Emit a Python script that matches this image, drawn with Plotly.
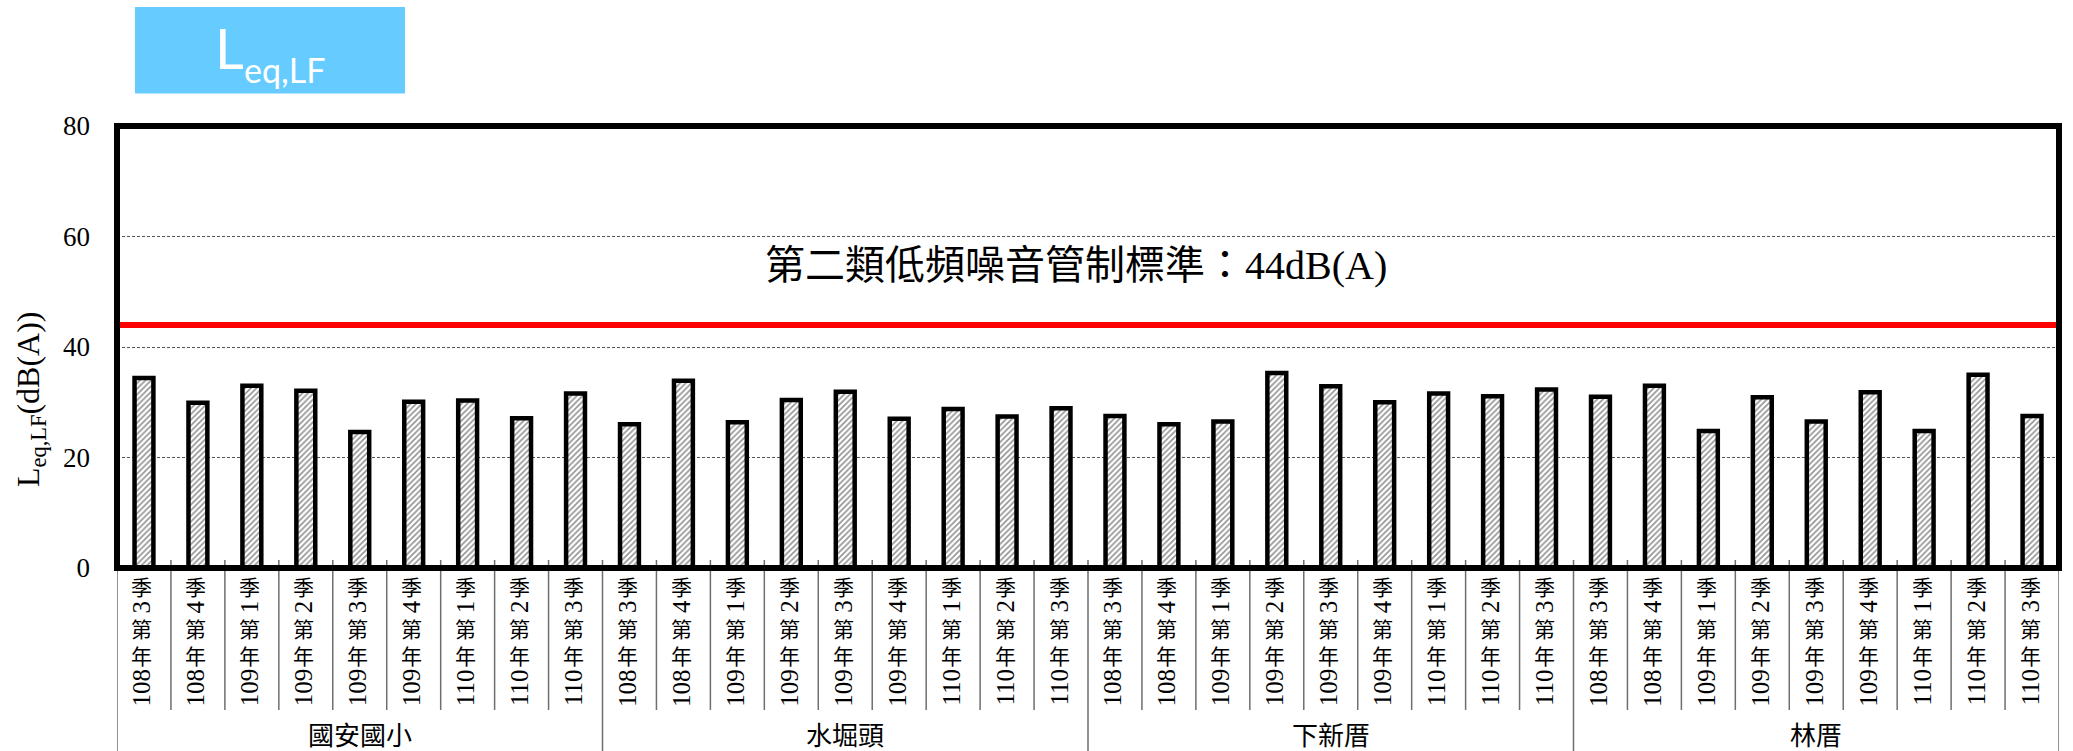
import plotly.graph_objects as go

# ---------------- data ----------------
groups = ["國安國小", "水堀頭", "下新厝", "林厝"]
periods = ["108年第3季", "108年第4季", "109年第1季", "109年第2季", "109年第3季",
           "109年第4季", "110年第1季", "110年第2季", "110年第3季"]
vals_guoan = [34.4, 29.9, 33.0, 32.1, 24.6, 30.1, 30.3, 27.1, 31.6]
vals_shuijuetou = [26.0, 33.9, 26.4, 30.4, 31.9, 27.0, 28.8, 27.4, 28.9]
vals_xiaxincuo = [27.5, 26.0, 26.5, 35.3, 32.9, 30.0, 31.6, 31.1, 32.3]
vals_lincuo = [31.0, 33.0, 24.8, 30.9, 26.5, 31.8, 24.8, 35.0, 27.5]
standard = 44
standard_label = "第二類低頻噪音管制標準：44dB(A)"
y_ticks = [0, 20, 40, 60, 80]
y_title = "L<sub>eq,LF</sub>(dB(A))"

series = [vals_guoan, vals_shuijuetou, vals_xiaxincuo, vals_lincuo]
values = [v for s in series for v in s]
cats = [(g, p) for g in groups for p in periods]
xs = list(range(len(cats)))

# ---------------- layout geometry (pixels) ----------------
W, H = 2073, 751
L, R = 117, 2059
T, B = 126, 568
PW, PH = R - L, B - T


def px_x(px):
    return (px - L) / PW


def px_y(py):
    return (B - py) / PH


SERIF = "Liberation Serif, Noto Sans CJK TC"
CJK = "Noto Sans CJK TC"

fig = go.Figure()
fig.add_trace(go.Bar(
    x=xs, y=values,
    marker=dict(color="white",
                line=dict(color="black", width=4.5),
                pattern=dict(shape="/", fgcolor="#262626", bgcolor="white",
                             size=4, solidity=0.4)),
    hoverinfo="skip", showlegend=False,
))

shapes = []
# reference standard line
shapes.append(dict(type="line", xref="paper", yref="y", x0=0, x1=1,
                   y0=standard, y1=standard,
                   line=dict(color="#FF0000", width=6), layer="above"))
# category / group dividers
n = len(cats)
for i in range(n + 1):
    is_group = (i % len(periods) == 0)
    shapes.append(dict(type="line", xref="x", yref="paper",
                       x0=i - 0.5, x1=i - 0.5,
                       y0=8 / PH,
                       y1=-(751 - B + 5) / PH if is_group else -(710 - B) / PH,
                       line=dict(color="#6e6e6e", width=1.5), layer="above"))
# frame
shapes.append(dict(type="rect", xref="paper", yref="paper", x0=0, x1=1, y0=0, y1=1,
                   line=dict(color="black", width=6), fillcolor="rgba(0,0,0,0)",
                   layer="above"))
# title box
shapes.append(dict(type="rect", xref="paper", yref="paper",
                   x0=px_x(135), x1=px_x(405), y0=px_y(93.5), y1=px_y(7),
                   line=dict(width=0), fillcolor="#66CCFF", layer="above"))

ann = []
# title box text
ann.append(dict(text="L", xref="paper", yref="paper", x=px_x(229), y=px_y(48),
                xanchor="center", yanchor="middle", showarrow=False,
                font=dict(family="Lato", size=56, color="white")))
ann.append(dict(text="eq,LF", xref="paper", yref="paper", x=px_x(284), y=px_y(69),
                xanchor="center", yanchor="middle", showarrow=False,
                font=dict(family="Lato", size=34, color="white")))
# standard label
ann.append(dict(text=standard_label, xref="paper", yref="paper",
                x=px_x(1076), y=px_y(265), xanchor="center", yanchor="middle",
                showarrow=False, font=dict(family=SERIF, size=40, color="black")))
# y-axis title
ann.append(dict(text=y_title, xref="paper", yref="paper", x=px_x(30), y=px_y(399),
                xanchor="center", yanchor="middle", textangle=-90, showarrow=False,
                font=dict(family="Liberation Serif", size=32, color="black")))

# category labels (vertical: CJK upright, digits rotated)
for i, (g, p) in enumerate(cats):
    year = p[:p.index("年")]
    q = p[p.index("第") + 1:p.index("季")]
    pieces = [("季", False, 585.5), (q, True, 606.5), ("第<br>年", False, 641.0),
              (year, True, 687.5)]
    for txt, rot, py in pieces:
        ann.append(dict(text=txt, xref="x", yref="paper", x=i, y=0,
                        yshift=-(py - B), xshift=-2, borderpad=0,
                        xanchor="center", yanchor="middle",
                        textangle=-90 if rot else 0, showarrow=False,
                        font=dict(family="Liberation Serif" if rot else CJK,
                                  size=25 if rot else 21, color="black")))
# group labels
for gi, g in enumerate(groups):
    center = gi * len(periods) + (len(periods) - 1) / 2
    ann.append(dict(text=g, xref="x", yref="paper", x=center, y=0,
                    yshift=-(733 - B), xanchor="center", yanchor="middle",
                    showarrow=False, font=dict(family=CJK, size=26, color="black")))

fig.update_layout(
    width=W, height=H,
    margin=dict(l=L, r=W - R, t=T, b=H - B, pad=0),
    paper_bgcolor="white", plot_bgcolor="white",
    bargap=0.65,
    shapes=shapes, annotations=ann,
    xaxis=dict(range=[-0.5, n - 0.5], showticklabels=False, showgrid=False,
               zeroline=False, showline=False, ticks=""),
    yaxis=dict(range=[0, 80], tickvals=y_ticks, ticktext=[str(t) for t in y_ticks],
               showgrid=True, gridcolor="#555555", gridwidth=1, griddash="3px,2px",
               zeroline=False, showline=False, ticks="", ticklabelstandoff=26,
               tickfont=dict(family="Liberation Serif", size=27, color="black")),
)

fig.write_html("out.html")
